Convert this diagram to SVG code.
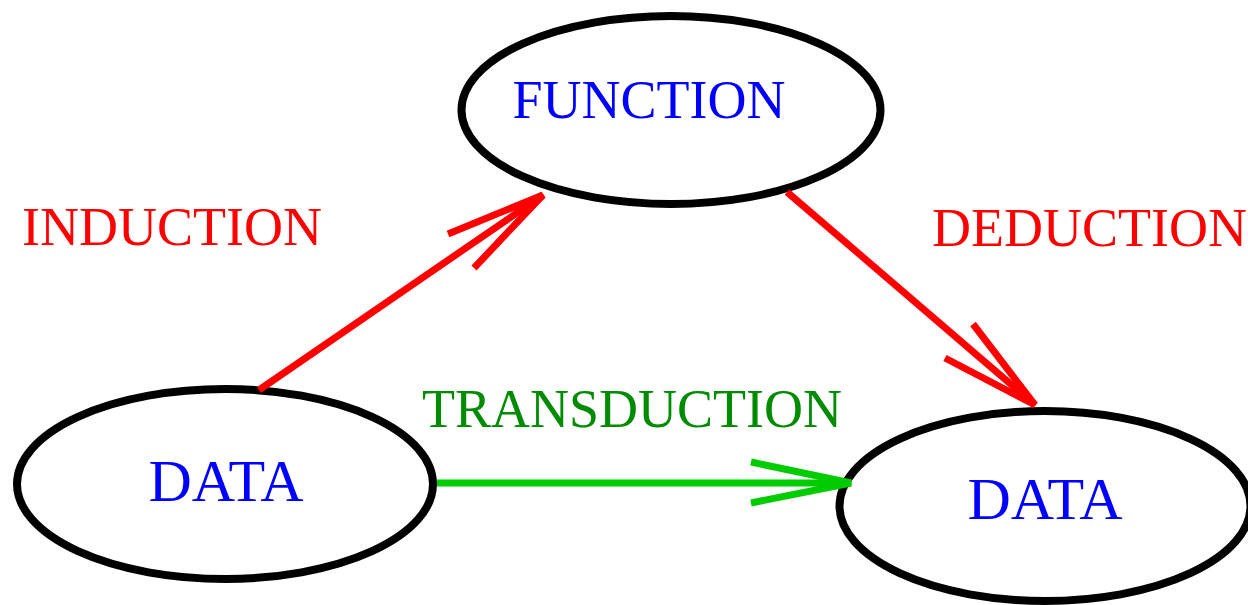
<svg xmlns="http://www.w3.org/2000/svg" width="1248" height="605" viewBox="0 0 1248 605">
<style>
.node{fill:#fff;stroke:#000;stroke-width:8}
.t{font-family:"Liberation Serif","Times New Roman",serif;font-size:54px}
.nt{fill:#0000ff}
.big{font-size:60px}
.red{fill:none;stroke:#ff0000;stroke-width:7}
.grn{fill:none;stroke:#00cc00;stroke-width:7}
</style>
<rect width="1248" height="605" fill="#fff"/>
<g id="function">
<ellipse class="node" cx="671" cy="110" rx="209.5" ry="94"/>
<text class="t nt" x="649" y="118" text-anchor="middle">FUNCTION</text>
</g>
<g id="data-left">
<ellipse class="node" cx="225" cy="484" rx="208" ry="95"/>
<text class="t nt big" x="226" y="501" text-anchor="middle">DATA</text>
</g>
<g id="data-right">
<ellipse class="node" cx="1045" cy="506" rx="205.5" ry="95"/>
<text class="t nt big" x="1045" y="519" text-anchor="middle">DATA</text>
</g>
<g id="connectors">
<line class="red" x1="259" y1="390" x2="543" y2="195"/>
<polyline class="red" points="448,234 543,195 474,268"/>
<line class="red" x1="787" y1="192" x2="1035" y2="405"/>
<polyline class="red" points="973,324 1035,405 945,358"/>
<line class="grn" x1="437" y1="483" x2="851" y2="483"/>
<polyline class="grn" points="751,462 851,483 751,503"/>
</g>
<g id="labels">
<text class="t" x="22" y="245" fill="#ff0000">INDUCTION</text>
<text class="t" x="932" y="246" fill="#ff0000">DEDUCTION</text>
<text class="t" x="422" y="427" fill="#008c00">TRANSDUCTION</text>
</g>
</svg>
